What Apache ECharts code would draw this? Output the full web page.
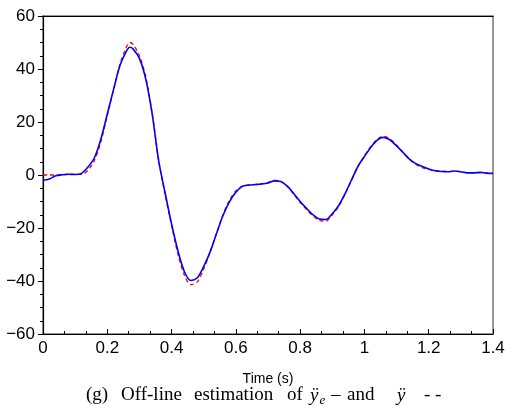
<!DOCTYPE html>
<html><head><meta charset="utf-8">
<script src="https://cdn.jsdelivr.net/npm/echarts@6/dist/echarts.min.js"></script>
<style>html,body{margin:0;padding:0;background:#fff}#c{width:509px;height:409px}</style>
</head><body><div id="c"></div>
<script>
var times = [0,0.02,0.04,0.06,0.08,0.1,0.12,0.14,0.16,0.18,0.2,0.22,0.24,0.26,0.27,0.28,0.3,0.32,0.34,0.36,0.38,0.4,0.42,0.44,0.46,0.48,0.5,0.52,0.54,0.56,0.58,0.6,0.62,0.64,0.66,0.68,0.7,0.72,0.74,0.76,0.78,0.8,0.82,0.84,0.86,0.88,0.9,0.92,0.94,0.96,0.98,1.0,1.02,1.04,1.06,1.08,1.1,1.12,1.14,1.16,1.18,1.2,1.22,1.24,1.26,1.28,1.3,1.32,1.34,1.36,1.38,1.4];
var estimated = [-2.0,-1.5,-0.3,0.1,0.3,0.2,0.6,3.0,6.5,13.5,23,32.5,41.5,46.8,48.2,47.6,44,36,22.8,5.2,-6.8,-18.5,-28.7,-36.5,-39.8,-38.8,-34.5,-29,-22,-15.3,-10.1,-6.5,-4.3,-3.8,-3.6,-3.4,-3.0,-2.2,-2.5,-4.2,-7,-10,-12.6,-15,-16.6,-16.8,-14.6,-11.5,-7,-1.8,3.3,7,10.5,13.2,14.2,13.2,11,8.5,6,4.3,3.2,2.3,1.6,1.3,1.2,1.5,1.2,0.8,0.8,1.0,0.7,0.6];
var measured = [0,0,0,0.1,0.3,0.2,0.2,1.8,5.5,12.5,22.5,32.5,42,48.5,50,49.3,45,37,23,5.5,-7.5,-19,-30,-37.8,-41.4,-40.3,-35.5,-29,-22,-15,-9.5,-6,-4.2,-3.8,-3.6,-3.3,-2.8,-2.0,-2.4,-4.3,-7.2,-10.4,-13,-15.5,-17.2,-17.4,-15,-11.8,-7.2,-2,3.2,7.2,10.8,13.5,14.6,13.6,11.2,8.6,6,4,2.8,2.1,1.7,1.5,1.4,1.4,1.2,0.9,0.9,0.9,0.7,0.6];
var xTicks = [0,0.2,0.4,0.6,0.8,1,1.2,1.4];
var yTicks = [-60,-40,-20,0,20,40,60];
var xTitle = 'Time (s)';
var captionWords = ['(g)', 'Off-line', 'estimation', 'of'];

function pairs(v){ return times.map(function(t,i){ return [t, v[i]]; }); }
var sans = '"Liberation Sans", Arial, sans-serif';
var serif = '"Liberation Serif", "Times New Roman", serif';
var capY = 386;
function word(txt, x, style){
  return {type:'text', x:x, y:capY, style:Object.assign({text:txt, font:'19px ' + serif, fill:'#000'}, style||{})};
}
var chart = echarts.init(document.getElementById('c'), null, {renderer:'canvas'});
chart.setOption({
  animation:false,
  grid:{left:43, top:16, right:16, bottom:75, show:true, borderColor:'#777', borderWidth:1.5},
  xAxis:[{
    type:'value', min:xTicks[0], max:xTicks[xTicks.length-1], interval:0.2,
    axisLine:{onZero:false, lineStyle:{color:'#000', width:1.2}},
    axisTick:{inside:true, length:5, lineStyle:{color:'#000'}},
    minorTick:{show:true, splitNumber:3, length:3, lineStyle:{color:'#000'}},
    splitLine:{show:false},
    axisLabel:{color:'#000', fontFamily:sans, fontSize:17, margin:6,
      formatter:function(v){ return String(Math.round(v*10)/10); }},
    name:xTitle, nameLocation:'middle', nameGap:38,
    nameTextStyle:{color:'#000', fontFamily:sans, fontSize:14}
  },{
    type:'value', position:'top', min:xTicks[0], max:xTicks[xTicks.length-1],
    axisLine:{onZero:false, lineStyle:{color:'#000', width:1.2}}, axisTick:{show:false}, axisLabel:{show:false}, splitLine:{show:false}
  }],
  yAxis:{
    type:'value', min:yTicks[0], max:yTicks[yTicks.length-1], interval:20,
    axisLine:{onZero:false, lineStyle:{color:'#000', width:1.2}},
    axisTick:{inside:false, length:5, lineStyle:{color:'#000'}},
    minorTick:{show:true, splitNumber:4, length:3, lineStyle:{color:'#000'}},
    splitLine:{show:false},
    axisLabel:{color:'#000', fontFamily:sans, fontSize:17, margin:8,
      formatter:function(v){ return String(v).replace('-', '\u2212'); }}
  },
  graphic:[
    word(captionWords[0], 86),
    word(captionWords[1], 121),
    word(captionWords[2], 194),
    word(captionWords[3], 287),
    word('ÿ', 310, {font:'italic 19px ' + serif}),
    {type:'text', x:319.5, y:capY+8, style:{text:'e', font:'italic 13px ' + serif, fill:'#000'}},
    word('–', 331),
    word('and', 347),
    word('ÿ', 397, {font:'italic 19px ' + serif}),
    word('-', 424),
    word('-', 435)
  ],
  series:[{
    name:'measured', type:'line', data:pairs(measured), smooth:0.3, showSymbol:false,
    lineStyle:{color:'#ff0000', width:1.3, type:[4,3]}
  },{
    name:'estimated', type:'line', data:pairs(estimated), smooth:0.3, showSymbol:false,
    lineStyle:{color:'#0000ff', width:1.6}
  }]
});
</script></body></html>
